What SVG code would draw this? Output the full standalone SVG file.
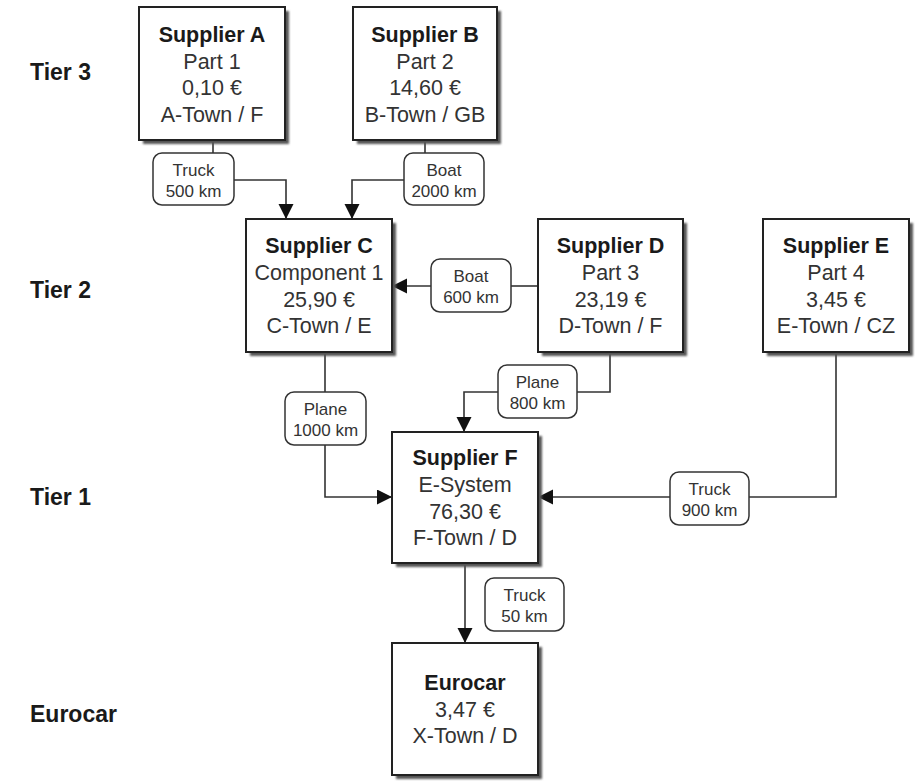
<svg xmlns="http://www.w3.org/2000/svg" width="921" height="783" viewBox="0 0 921 783">
<style>
.box{fill:#fff;stroke:#222;stroke-width:2}
.sh{fill:#555;filter:url(#blur)}
.lbl{fill:#fff;stroke:#333;stroke-width:1.5}
.ln{fill:none;stroke:#333;stroke-width:1.6}
.t{font-family:"Liberation Sans",Arial,sans-serif;font-size:21.5px;fill:#333;text-anchor:middle}
.tb{font-weight:bold;fill:#1a1a1a}
.lt{font-family:"Liberation Sans",Arial,sans-serif;font-size:17px;fill:#333;text-anchor:middle}
.tier{font-family:"Liberation Sans",Arial,sans-serif;font-size:23px;font-weight:bold;fill:#1a1a1a}
</style>
<defs>
<filter id="blur" x="-10%" y="-10%" width="120%" height="120%"><feGaussianBlur stdDeviation="0.8"/></filter>
<marker id="arr" markerUnits="userSpaceOnUse" markerWidth="16" markerHeight="16" refX="15" refY="7.5" orient="auto"><path d="M0,0 L15,7.5 L0,15 z" fill="#111"/></marker>
</defs>
<rect width="921" height="783" fill="#fff"/>

<g id="tiers">
<text class="tier" x="30" y="80">Tier 3</text>
<text class="tier" x="30" y="298">Tier 2</text>
<text class="tier" x="30" y="505">Tier 1</text>
<text class="tier" x="30" y="722">Eurocar</text>
</g>

<g id="connectors">
<!-- A -> C -->
<path class="ln" d="M213,140 V153"/>
<path class="ln" d="M234,180 H286 V219" marker-end="url(#arr)"/>
<rect class="lbl" x="153" y="153" width="81" height="52" rx="9"/>
<text class="lt" x="193.5" y="176">Truck</text>
<text class="lt" x="193.5" y="197">500 km</text>
<!-- B -> C -->
<path class="ln" d="M425,140 V153"/>
<path class="ln" d="M404,180 H352 V219" marker-end="url(#arr)"/>
<rect class="lbl" x="404" y="153" width="80" height="52" rx="9"/>
<text class="lt" x="444" y="176">Boat</text>
<text class="lt" x="444" y="197">2000 km</text>
<!-- D -> C -->
<path class="ln" d="M538,286 H511"/>
<path class="ln" d="M431,286 H392" marker-end="url(#arr)"/>
<rect class="lbl" x="431" y="259" width="80" height="53" rx="9"/>
<text class="lt" x="471" y="282">Boat</text>
<text class="lt" x="471" y="303">600 km</text>
<!-- C -> F -->
<path class="ln" d="M325,352 V392"/>
<path class="ln" d="M325,445 V497 H392" marker-end="url(#arr)"/>
<rect class="lbl" x="285" y="392" width="81" height="53" rx="9"/>
<text class="lt" x="325.5" y="415">Plane</text>
<text class="lt" x="325.5" y="436">1000 km</text>
<!-- D -> F -->
<path class="ln" d="M610,352 V392 H577"/>
<path class="ln" d="M498,392 H464 V432" marker-end="url(#arr)"/>
<rect class="lbl" x="498" y="365" width="79" height="53" rx="9"/>
<text class="lt" x="537.5" y="388">Plane</text>
<text class="lt" x="537.5" y="409">800 km</text>
<!-- E -> F -->
<path class="ln" d="M836,352 V497 H749"/>
<path class="ln" d="M670,497 H538" marker-end="url(#arr)"/>
<rect class="lbl" x="670" y="472" width="79" height="53" rx="9"/>
<text class="lt" x="709.5" y="495">Truck</text>
<text class="lt" x="709.5" y="516">900 km</text>
<!-- F -> Eurocar -->
<path class="ln" d="M465,563 V643" marker-end="url(#arr)"/>
<rect class="lbl" x="485" y="578" width="79" height="53" rx="9"/>
<text class="lt" x="524.5" y="601">Truck</text>
<text class="lt" x="524.5" y="622">50 km</text>
</g>

<g id="supplierA">
<rect class="sh" x="143" y="11" width="146" height="133"/>
<rect class="box" x="139" y="7" width="146" height="133"/>
<text class="t tb" x="212" y="42">Supplier A</text>
<text class="t" x="212" y="68.5">Part 1</text>
<text class="t" x="212" y="95">0,10 €</text>
<text class="t" x="212" y="121.5">A-Town / F</text>
</g>

<g id="supplierB">
<rect class="sh" x="357" y="11" width="144" height="133"/>
<rect class="box" x="353" y="7" width="144" height="133"/>
<text class="t tb" x="425" y="42">Supplier B</text>
<text class="t" x="425" y="68.5">Part 2</text>
<text class="t" x="425" y="95">14,60 €</text>
<text class="t" x="425" y="121.5">B-Town / GB</text>
</g>

<g id="supplierC">
<rect class="sh" x="250" y="223" width="146" height="133"/>
<rect class="box" x="246" y="219" width="146" height="133"/>
<text class="t tb" x="319" y="253">Supplier C</text>
<text class="t" x="319" y="280">Component 1</text>
<text class="t" x="319" y="306.5">25,90 €</text>
<text class="t" x="319" y="333">C-Town / E</text>
</g>

<g id="supplierD">
<rect class="sh" x="542" y="223" width="145" height="133"/>
<rect class="box" x="538" y="219" width="145" height="133"/>
<text class="t tb" x="610.5" y="253">Supplier D</text>
<text class="t" x="610.5" y="280">Part 3</text>
<text class="t" x="610.5" y="306.5">23,19 €</text>
<text class="t" x="610.5" y="333">D-Town / F</text>
</g>

<g id="supplierE">
<rect class="sh" x="767" y="223" width="146" height="133"/>
<rect class="box" x="763" y="219" width="146" height="133"/>
<text class="t tb" x="836" y="253">Supplier E</text>
<text class="t" x="836" y="280">Part 4</text>
<text class="t" x="836" y="306.5">3,45 €</text>
<text class="t" x="836" y="333">E-Town / CZ</text>
</g>

<g id="supplierF">
<rect class="sh" x="396" y="436" width="146" height="131"/>
<rect class="box" x="392" y="432" width="146" height="131"/>
<text class="t tb" x="465" y="465">Supplier F</text>
<text class="t" x="465" y="492">E-System</text>
<text class="t" x="465" y="518.5">76,30 €</text>
<text class="t" x="465" y="545">F-Town / D</text>
</g>

<g id="eurocar">
<rect class="sh" x="396" y="647" width="146" height="132"/>
<rect class="box" x="392" y="643" width="146" height="132"/>
<text class="t tb" x="465" y="690">Eurocar</text>
<text class="t" x="465" y="716.5">3,47 €</text>
<text class="t" x="465" y="743">X-Town / D</text>
</g>
</svg>
